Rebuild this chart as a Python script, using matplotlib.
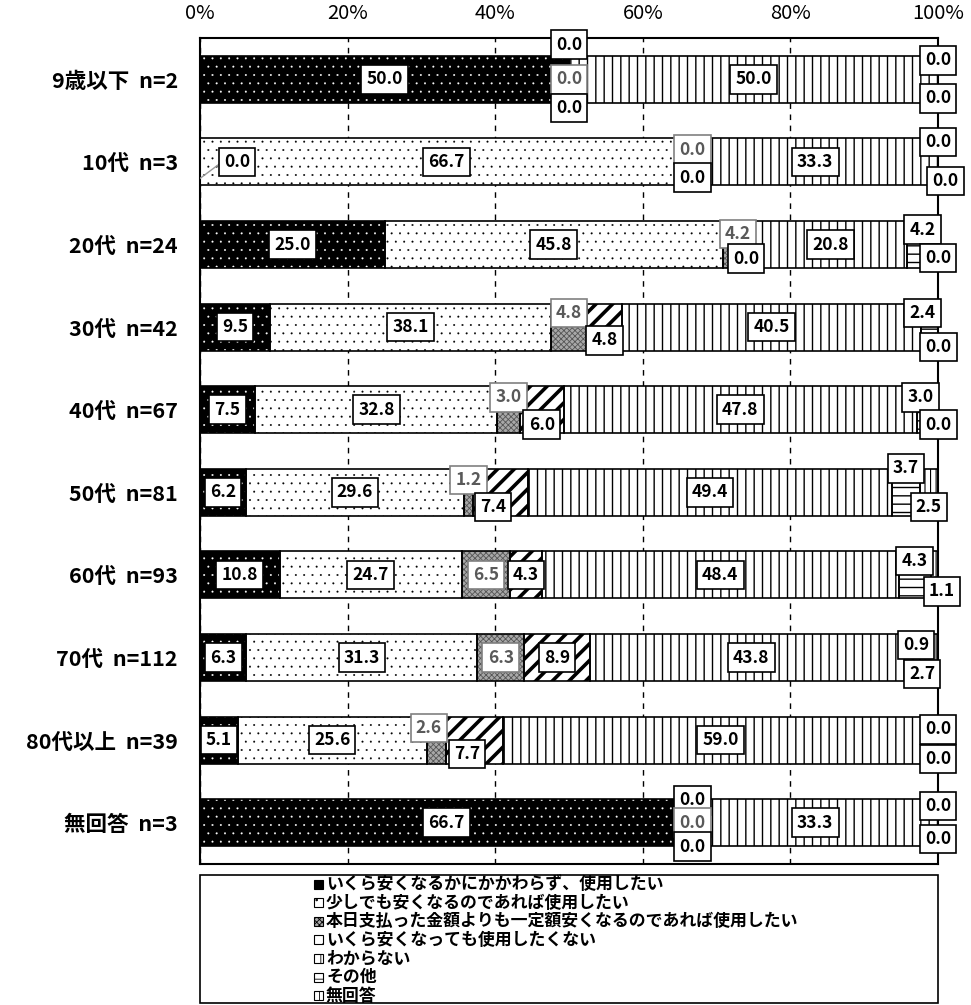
import matplotlib
matplotlib.use('Agg')
import matplotlib.pyplot as plt
from matplotlib.patches import Rectangle
import numpy as np

plt.rcParams['font.family'] = ['Noto Sans CJK JP', 'DejaVu Sans']

groups = ['9歳以下  n=2', '10代  n=3', '20代  n=24', '30代  n=42', '40代  n=67',
          '50代  n=81', '60代  n=93', '70代  n=112', '80代以上  n=39', '無回答  n=3']
series_names = ['いくら安くなるかにかかわらず、使用したい',
                '少しでも安くなるのであれば使用したい',
                '本日支払った金額よりも一定額安くなるのであれば使用したい',
                'いくら安くなっても使用したくない',
                'わからない',
                'その他',
                '無回答']
always = [50.0, 0.0, 25.0, 9.5, 7.5, 6.2, 10.8, 6.3, 5.1, 66.7]
little = [0.0, 66.7, 45.8, 38.1, 32.8, 29.6, 24.7, 31.3, 25.6, 0.0]
fixed = [0.0, 0.0, 4.2, 4.8, 3.0, 1.2, 6.5, 6.3, 2.6, 0.0]
never = [0.0, 0.0, 0.0, 4.8, 6.0, 7.4, 4.3, 8.9, 7.7, 0.0]
unknown = [50.0, 33.3, 20.8, 40.5, 47.8, 49.4, 48.4, 43.8, 59.0, 33.3]
other = [0.0, 0.0, 4.2, 2.4, 3.0, 3.7, 4.3, 0.9, 0.0, 0.0]
no_answer = [0.0, 0.0, 0.0, 0.0, 0.0, 2.5, 1.1, 2.7, 0.0, 0.0]

data = [always, little, fixed, never, unknown, other, no_answer]

# face colour, hatch, hatch colour, hatch linewidth
styles = [('black', '..', 'white', 0.2),
          ('white', '..', 'black', 0.2),
          ('#a8a8a8', 'xxxxxx', '#555555', 0.6),
          ('white', '//', 'black', 2.6),
          ('white', '||', 'black', 1.0),
          ('white', '--', 'black', 1.0),
          ('white', '|||', 'black', 0.8)]

# label nudges (x in %, y in rows) for the small segments
nudge = {
    (0, 1): (0, -0.42), (0, 3): (0, 0.35), (0, 5): (0, -0.23), (0, 6): (0, 0.23),
    (1, 0): (5, 0), (1, 2): (0, -0.15), (1, 3): (0, 0.19), (1, 5): (0, -0.24), (1, 6): (1, 0.23),
    (2, 2): (0, -0.13), (2, 3): (-1, 0.17), (2, 5): (0, -0.18), (2, 6): (0, 0.16),
    (3, 2): (0, -0.17), (3, 3): (0, 0.16), (3, 5): (-1, -0.17), (3, 6): (0, 0.24),
    (4, 2): (0, -0.15), (4, 3): (0, 0.18), (4, 5): (-1, -0.15), (4, 6): (0, 0.18),
    (5, 2): (0, -0.15), (5, 3): (-1, 0.18), (5, 5): (0, -0.29), (5, 6): (0, 0.18),
    (6, 5): (0, -0.17), (6, 6): (1, 0.2),
    (7, 5): (0, -0.15), (7, 6): (-1, 0.2),
    (8, 2): (-1, -0.15), (8, 3): (-1, 0.17), (8, 5): (0, -0.13), (8, 6): (0, 0.23),
    (9, 1): (0, -0.27), (9, 3): (0, 0.29), (9, 5): (0, -0.2), (9, 6): (0, 0.2),
}

fig = plt.figure(figsize=(9.71, 10.05), dpi=100)
ax = fig.add_axes([200/971, 1-864/1005, 738/971, 826/1005])


def hatch_lw(artist, lw):
    if hasattr(artist, 'set_hatch_linewidth'):
        artist.set_hatch_linewidth(lw)


y = np.arange(len(groups))
h = 0.57
left = np.zeros(len(groups))
for i, vals in enumerate(data):
    face, hatch, hcol, hlw = styles[i]
    vals = np.array(vals)
    bars = ax.barh(y, vals, left=left, height=h, color=face, hatch=hatch,
                   edgecolor=hcol, linewidth=0, zorder=2)
    for b in bars:
        hatch_lw(b, hlw)
    ax.barh(y, vals, left=left, height=h, fill=False, edgecolor='black',
            linewidth=1.2, zorder=3)
    for r in range(len(groups)):
        dx, dy = nudge.get((r, i), (0, 0))
        cx = left[r] + vals[r] / 2 + dx
        grey = (i == 2)
        ax.text(cx, r + dy, f'{vals[r]:.1f}', ha='center', va='center',
                fontsize=12.5, fontweight='bold',
                color='#595959' if grey else 'black', zorder=6,
                bbox=dict(boxstyle='square,pad=0.3', fc='white',
                          ec='#808080' if grey else 'black', lw=1.2))
        if (r, i) == (1, 0):
            ax.plot([0, 3], [r + 0.2, r], color='#999999', lw=1, zorder=5)
    left = left + vals

ax.set_xlim(0, 100)
ax.set_ylim(len(groups) - 0.5, -0.5)
ax.set_xticks([0, 20, 40, 60, 80, 100])
ax.set_xticklabels(['0%', '20%', '40%', '60%', '80%', '100%'])
ax.xaxis.tick_top()
ax.tick_params(axis='x', length=0, pad=10, labelsize=14.5)
ax.set_yticks(y)
ax.set_yticklabels(groups, fontsize=15.5, fontweight='bold')
ax.tick_params(axis='y', length=0, pad=16)
ax.xaxis.grid(True, linestyle=(0, (4, 4)), color='black', linewidth=1)
ax.set_axisbelow(True)
for s in ax.spines.values():
    s.set_linewidth(1.5)

# legend drawn by hand so the rows sit close together like the original
W, H = 971, 1005
fig.add_artist(Rectangle((200/W, 1-1003/H), 738/W, 128/H,
                         transform=fig.transFigure, fill=False,
                         edgecolor='black', linewidth=1.2))
for i, name in enumerate(series_names):
    face, hatch, hcol, hlw = styles[i]
    yc = 884 + i * 18.6
    sq = Rectangle((314/W, 1-(yc+4.5)/H), 9/W, 9/H, transform=fig.transFigure,
                   facecolor=face, hatch=hatch, edgecolor='black', linewidth=0.8)
    hatch_lw(sq, 0.6)
    fig.add_artist(sq)
    fig.text(326/W, 1-yc/H, name, ha='left', va='center', fontsize=12.2,
             fontweight='bold')

fig.savefig('out.png', dpi=100)
